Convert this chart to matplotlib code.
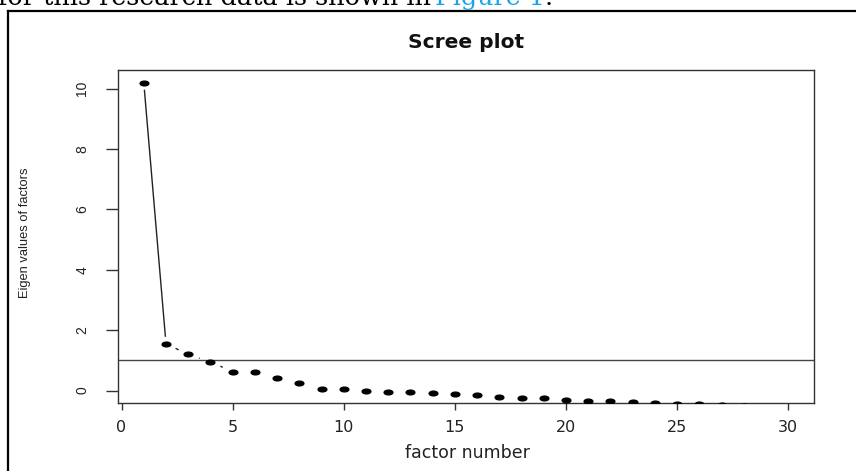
import numpy as np
import matplotlib
matplotlib.use("Agg")
import matplotlib.pyplot as plt
from matplotlib.path import Path
from matplotlib.transforms import Affine2D
from matplotlib.lines import Line2D

# ---- data ----
factor_number = list(range(1, 31))
eigen_values = [10.2, 1.55, 1.20, 0.95, 0.63, 0.61, 0.43, 0.26, 0.07, 0.05,
                0.00, -0.03, -0.05, -0.08, -0.10, -0.13, -0.21, -0.23, -0.26, -0.30,
                -0.33, -0.36, -0.37, -0.42, -0.44, -0.45, -0.47, -0.51, -0.53, -0.56]
ref_line = 1.0
x_ticks = [0, 5, 10, 15, 20, 25, 30]
y_ticks = [0, 2, 4, 6, 8, 10]
title = "Scree plot"
xlabel = "factor number"
ylabel = "Eigen values of factors"
header_text = "for this research data is shown in "
header_link = "Figure 1"

W, H = 856, 471
fig = plt.figure(figsize=(W / 100, H / 100), dpi=100)
fig.patch.set_facecolor("white")

# axes placement (pixels measured from reference)
L, R, T, B = 118, 814, 70, 403
ax = fig.add_axes([L / W, 1 - B / H, (R - L) / W, (B - T) / H])
ax.set_xlim(-0.16, 31.16)
ax.set_ylim(-0.41, 10.62)

for s in ax.spines.values():
    s.set_color("#333333")
    s.set_linewidth(1.0)

ax.set_xticks(x_ticks)
ax.set_yticks(y_ticks)
ax.tick_params(axis="x", direction="out", length=5, width=1, color="#333333",
               pad=7, labelsize=11.5, labelcolor="#222222")
ax.tick_params(axis="y", direction="out", length=8.6, width=1, color="#333333",
               pad=12, labelsize=10, labelcolor="#222222")
for lab in ax.get_yticklabels():
    lab.set_family("Liberation Sans")
    lab.set_rotation(90)
    lab.set_va("center")

# reference line
ax.axhline(ref_line, color="#444444", lw=1.0, zorder=2)

# elliptical marker (reference image is horizontally stretched)
circ = Path.unit_circle()
ell = Affine2D().scale(1.85, 1.0).transform_path(circ)
ax.plot(factor_number, eigen_values, linestyle="none", marker=ell,
        markersize=6.3, color="black", zorder=4)

# R type="b" lines with gaps around points
fig.canvas.draw()
stretch = 1.8
gap = 7.0
pts = ax.transData.transform(np.column_stack([factor_number, eigen_values]))
inv = ax.transData.inverted()
for i in range(len(pts) - 1):
    p1, p2 = pts[i], pts[i + 1]
    d = p2 - p1
    Lu = np.hypot(d[0] / stretch, d[1])
    if Lu > 2 * gap:
        f = gap / Lu
        a = inv.transform(p1 + d * f)
        b = inv.transform(p2 - d * f)
        ax.plot([a[0], b[0]], [a[1], b[1]], color="#222222", lw=1.0, zorder=3,
                solid_capstyle="butt")

# title and labels
ax.set_title(title, fontsize=14.5, fontweight="bold", family="DejaVu Sans",
             y=(B - 47.7) / (B - T), pad=0, color="#111111")
ax.set_xlabel(xlabel, fontsize=12.5, color="#222222")
ax.xaxis.set_label_coords((467 - L) / (R - L), (B - 453.5) / (B - T))
ax.xaxis.label.set_va("center")
ax.set_ylabel(ylabel, fontsize=9.3, family="Liberation Sans", color="#222222")
ax.yaxis.set_label_coords((25.5 - L) / (R - L), (B - 232.5) / (B - T))
ax.yaxis.label.set_va("center")

# outer frame of the figure box (document image)
fig.add_artist(Line2D([8 / W, 1.0], [1 - 11 / H, 1 - 11 / H], color="black",
                      lw=1.6, transform=fig.transFigure))
fig.add_artist(Line2D([8 / W, 8 / W], [1 - 11 / H, 0.0], color="black",
                      lw=1.6, transform=fig.transFigure))

# header text (cut off at top)
hs = 18.4
t1 = fig.text(-2 / W, 1 - 5 / H, header_text, fontsize=hs, family="DejaVu Serif",
              va="baseline", ha="left", color="black")
t2 = fig.text(435 / W, 1 - 5 / H, header_link, fontsize=hs, family="DejaVu Serif",
              va="baseline", ha="left", color="#1aa3e8")
fig.canvas.draw()
bb = t2.get_window_extent()
fig.text(bb.x1 / W, 1 - 5 / H, ".", fontsize=hs, family="DejaVu Serif",
         va="baseline", ha="left", color="black")

fig.savefig("out.png", dpi=100, facecolor="white")
